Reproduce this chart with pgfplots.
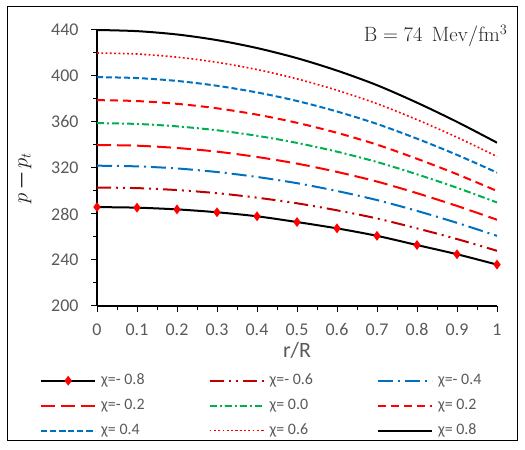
\documentclass[border=0pt]{standalone}
\usepackage{pgfplots}
\pgfplotsset{compat=1.18}
\usepackage[no-math]{fontspec}
\setmainfont{Carlito}
\definecolor{tickgray}{HTML}{595959}
\definecolor{xlred}{HTML}{FF0000}
\definecolor{xldred}{HTML}{C00000}
\definecolor{xlblue}{HTML}{0070C0}
\definecolor{xlgreen}{HTML}{00B050}
\begin{document}
\begin{tikzpicture}[x=1bp,y=1bp]
\path[use as bounding box] (0,0) rectangle (525,450);
\draw[line width=1bp] (7,9) rectangle (517,443);
\begin{axis}[
  at={(97bp,144bp)}, anchor=south west,
  scale only axis, width=400bp, height=276bp,
  xmin=0, xmax=1, ymin=200, ymax=440,
  axis lines*=left,
  axis line style={line width=1.2bp, black},
  xtick={0,0.1,0.2,0.3,0.4,0.5,0.6,0.7,0.8,0.9,1},
  xticklabels={0,0.1,0.2,0.3,0.4,0.5,0.6,0.7,0.8,0.9,1},
  minor xtick={0.05,0.15,0.25,0.35,0.45,0.55,0.65,0.75,0.85,0.95},
  ytick={200,240,280,320,360,400,440},
  yticklabels={200,240,280,320,360,400,440},
  minor ytick={220,260,300,340,380,420},
  tick align=outside,
  major tick length=6bp, minor tick length=4bp,
  tick style={line width=1bp, black},
  tick label style={font=\fontsize{18}{20}\selectfont, text=tickgray},
  xticklabel style={yshift=-8bp},
  yticklabel style={xshift=-9bp},
  xlabel={r/R},
  xlabel style={font=\fontsize{22}{24}\selectfont, text=tickgray, at={(rel axis cs:0.5,-0.162)}, anchor=center},
  ylabel={$p$\,—\,$p_t$},
  ylabel style={font=\fontsize{20}{22}\selectfont, text=black!90, at={(rel axis cs:-0.18,0.464)}, anchor=center, rotate=0},
  legend columns=3,
  legend cell align=left,
  legend style={draw=none, fill=none, at={(rel axis cs:-0.1425,-0.2246)}, anchor=north west,
    inner xsep=0pt, inner ysep=0pt,
    font=\fontsize{16}{18}\selectfont, text=tickgray,
    nodes={text height=12bp, text depth=4bp, inner ysep=4.5bp, inner xsep=5bp},
    /tikz/every even column/.append style={column sep=59bp}},
  legend image code/.code={\draw[mark repeat=2,mark phase=2,#1] plot coordinates {(0bp,0bp) (27bp,0bp) (54bp,0bp)};},
]
% chi = -0.8
\addplot[black, line width=2bp, smooth, mark=diamond*, mark size=3.3bp, mark options={solid, fill=xlred, draw=xlred}] table {
0 286
0.1 285.5
0.2 284
0.3 281.5
0.4 278
0.5 273
0.6 267.5
0.7 261
0.8 253
0.9 245
1 236
};
\addlegendentry{χ=- 0.8}
% chi = -0.6
\addplot[xldred, line width=2bp, smooth, dash pattern=on 14bp off 5bp on 2bp off 5bp on 2bp off 5bp] table {
0 303
0.1 302.5
0.2 300.8
0.3 298.1
0.4 294.2
0.5 289.3
0.6 283.2
0.7 276.1
0.8 267.5
0.9 258.2
1 248
};
\addlegendentry{χ=- 0.6}
% chi = -0.4
\addplot[xlblue, line width=2bp, smooth, dash pattern=on 15bp off 5bp on 2bp off 5bp] table {
0 322
0.1 321.4
0.2 319.6
0.3 316.5
0.4 312.2
0.5 306.8
0.6 300.0
0.7 292.1
0.8 282.7
0.9 272.3
1 261
};
\addlegendentry{χ=- 0.4}
% chi = -0.2
\addplot[xlred, line width=2bp, smooth, dash pattern=on 14bp off 6bp] table {
0 340
0.1 339.4
0.2 337.4
0.3 334.2
0.4 329.6
0.5 323.8
0.6 316.6
0.7 308.2
0.8 298.1
0.9 287.0
1 275
};
\addlegendentry{χ=- 0.2}
% chi = 0.0
\addplot[xlgreen, line width=2bp, smooth, dash pattern=on 7bp off 3bp on 2bp off 3bp] table {
0 359
0.1 358.3
0.2 356.2
0.3 352.8
0.4 348.0
0.5 341.8
0.6 334.2
0.7 325.2
0.8 314.5
0.9 302.8
1 290
};
\addlegendentry{χ= 0.0}
% chi = 0.2
\addplot[xlred, line width=2bp, smooth, dash pattern=on 8bp off 5bp] table {
0 379
0.1 378.2
0.2 375.8
0.3 371.9
0.4 366.4
0.5 359.3
0.6 350.6
0.7 340.3
0.8 328.0
0.9 314.6
1 300
};
\addlegendentry{χ= 0.2}
% chi = 0.4
\addplot[xlblue, line width=2bp, smooth, dash pattern=on 6bp off 3bp] table {
0 399
0.1 398.2
0.2 395.7
0.3 391.5
0.4 385.7
0.5 378.3
0.6 369.1
0.7 358.3
0.8 345.5
0.9 331.4
1 316
};
\addlegendentry{χ= 0.4}
% chi = 0.6
\addplot[xlred, line width=1.6bp, smooth, dash pattern=on 1.8bp off 2.5bp] table {
0 420
0.1 419.1
0.2 416.4
0.3 411.9
0.4 405.6
0.5 397.5
0.6 387.6
0.7 375.9
0.8 362.0
0.9 346.7
1 330
};
\addlegendentry{χ= 0.6}
% chi = 0.8
\addplot[black, line width=2bp, smooth] table {
0 440
0.1 439.0
0.2 436.1
0.3 431.2
0.4 424.3
0.5 415.5
0.6 404.7
0.7 392.0
0.8 376.8
0.9 360.1
1 342
};
\addlegendentry{χ= 0.8}
\end{axis}
\node[anchor=east, text=black!85, font=\fontsize{20.5}{23}\selectfont] at (511,414) {$\mathrm{B} = 74\ \ \mathrm{Mev/fm^3}$};
\end{tikzpicture}
\end{document}
